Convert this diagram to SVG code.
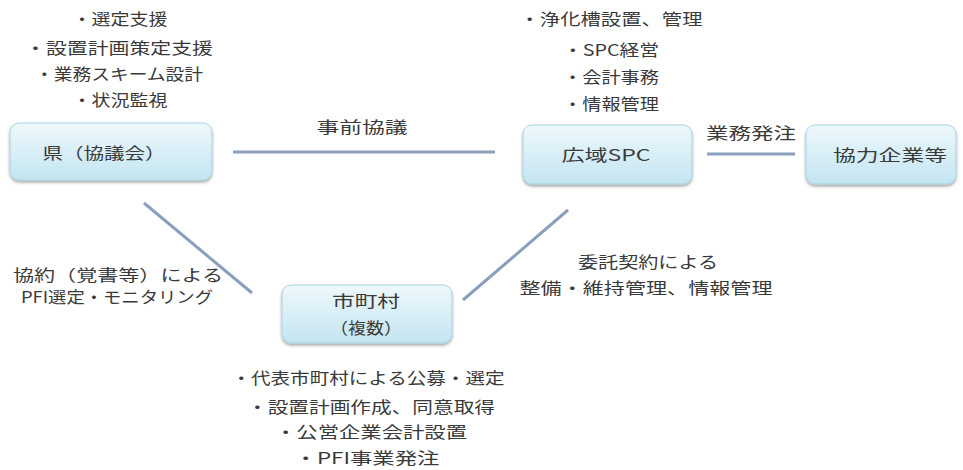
<svg xmlns="http://www.w3.org/2000/svg" width="963" height="470" viewBox="0 0 963 470">
<defs>
<linearGradient id="bg" x1="0" y1="0" x2="0" y2="1">
<stop offset="0" stop-color="#eef8fc"/>
<stop offset="1" stop-color="#c3e5f1"/>
</linearGradient>
<filter id="sh" x="-10%" y="-10%" width="120%" height="140%">
<feDropShadow dx="0" dy="2" stdDeviation="1.5" flood-color="#000" flood-opacity="0.35"/>
</filter>
<style>
.box{fill:url(#bg);stroke:#a9d3e3;stroke-width:1;filter:url(#sh)}
text{font-family:"Noto Sans CJK JP","Noto Sans",sans-serif;font-size:16px;fill:#3a3a3a;text-anchor:middle}
.c{stroke:#8a9fbe;stroke-width:3;fill:none;stroke-linecap:butt}
</style>
</defs>
<rect width="963" height="470" fill="#fff"/>
<g id="connectors">
<line class="c" x1="233" y1="152" x2="495" y2="152"/>
<line class="c" x1="707" y1="154" x2="795" y2="154"/>
<line class="c" x1="144" y1="203" x2="252" y2="293"/>
<line class="c" x1="463" y1="300" x2="568" y2="210"/>
</g>
<g id="node-ken">
<rect class="box" x="10" y="123" width="202" height="57" rx="9"/>
<text x="104" y="159" textLength="123" lengthAdjust="spacingAndGlyphs">県（協議会）</text>
</g>
<g id="node-spc">
<rect class="box" x="523" y="125" width="169" height="59" rx="9"/>
<text x="606" y="161" textLength="89" lengthAdjust="spacingAndGlyphs">広域SPC</text>
</g>
<g id="node-kyoryoku">
<rect class="box" x="806" y="125" width="150" height="59" rx="9"/>
<text x="890" y="161" textLength="114" lengthAdjust="spacingAndGlyphs">協力企業等</text>
</g>
<g id="node-shichoson">
<rect class="box" x="282" y="285" width="170" height="58" rx="9"/>
<text x="366" y="307" textLength="68" lengthAdjust="spacingAndGlyphs">市町村</text>
<text x="366" y="334" textLength="72" lengthAdjust="spacingAndGlyphs">（複数）</text>
</g>
<g id="labels">
<text x="120" y="25" textLength="95" lengthAdjust="spacingAndGlyphs">・選定支援</text>
<text x="119" y="54" textLength="188" lengthAdjust="spacingAndGlyphs">・設置計画策定支援</text>
<text x="119" y="80" textLength="168" lengthAdjust="spacingAndGlyphs">・業務スキーム設計</text>
<text x="120" y="106" textLength="95" lengthAdjust="spacingAndGlyphs">・状況監視</text>
<text x="611" y="25" textLength="183" lengthAdjust="spacingAndGlyphs">・浄化槽設置、管理</text>
<text x="611" y="56" textLength="96" lengthAdjust="spacingAndGlyphs">・SPC経営</text>
<text x="611" y="83" textLength="96" lengthAdjust="spacingAndGlyphs">・会計事務</text>
<text x="611" y="110" textLength="96" lengthAdjust="spacingAndGlyphs">・情報管理</text>
<text x="362" y="133" textLength="91" lengthAdjust="spacingAndGlyphs">事前協議</text>
<text x="751" y="139" textLength="90" lengthAdjust="spacingAndGlyphs">業務発注</text>
<text x="118" y="281" textLength="210" lengthAdjust="spacingAndGlyphs">協約（覚書等）による</text>
<text x="117" y="303" textLength="192" lengthAdjust="spacingAndGlyphs">PFI選定・モニタリング</text>
<text x="648" y="268" textLength="140" lengthAdjust="spacingAndGlyphs">委託契約による</text>
<text x="646" y="294" textLength="253" lengthAdjust="spacingAndGlyphs">整備・維持管理、情報管理</text>
<text x="368" y="384" textLength="273" lengthAdjust="spacingAndGlyphs">・代表市町村による公募・選定</text>
<text x="371" y="413" textLength="248" lengthAdjust="spacingAndGlyphs">・設置計画作成、同意取得</text>
<text x="371" y="438" textLength="192" lengthAdjust="spacingAndGlyphs">・公営企業会計設置</text>
<text x="367" y="464" textLength="145" lengthAdjust="spacingAndGlyphs">・PFI事業発注</text>
</g>
</svg>
